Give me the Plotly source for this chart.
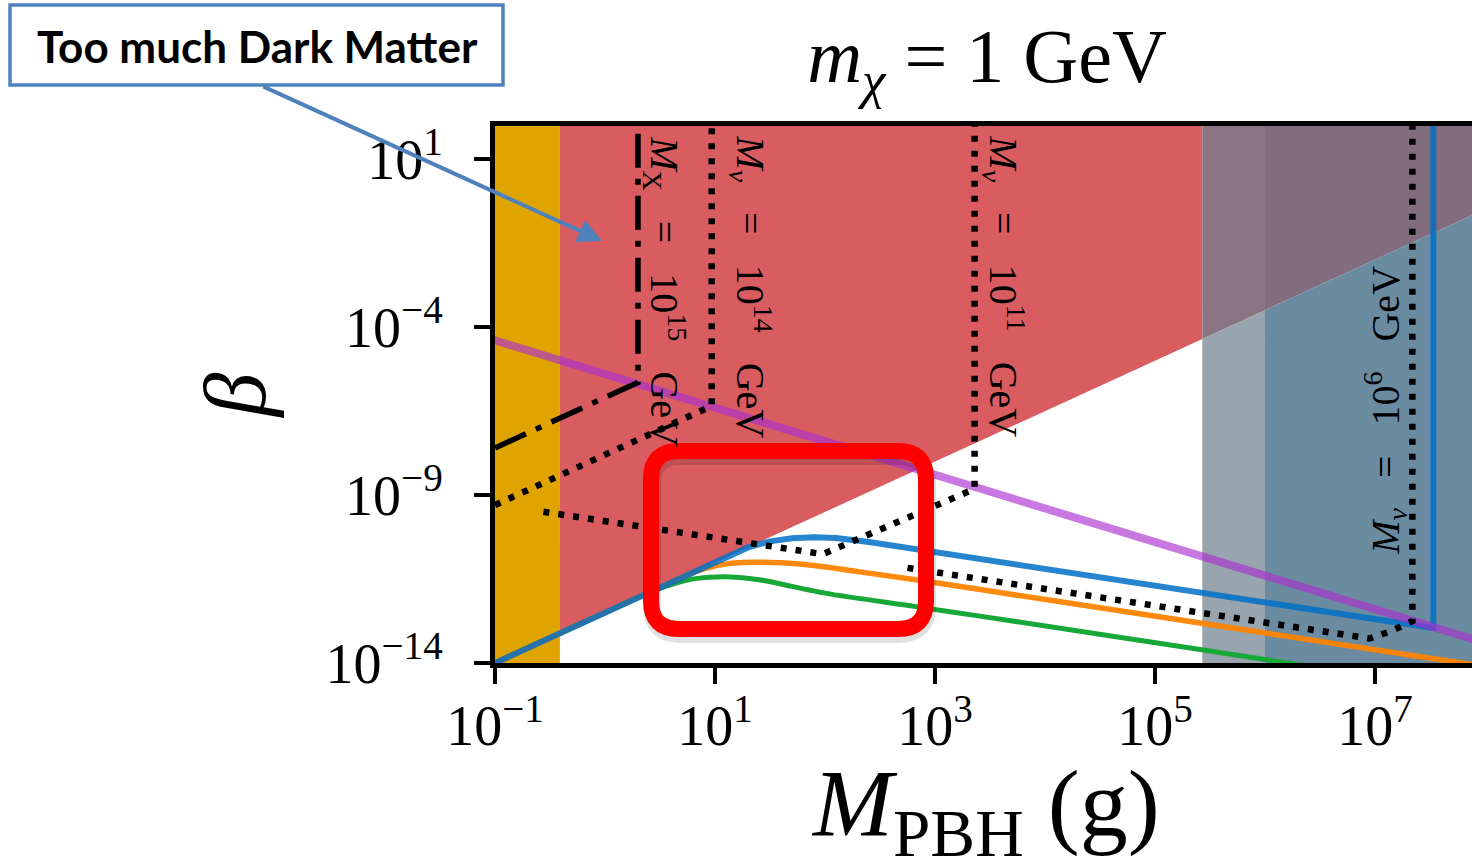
import numpy as np
import plotly.graph_objects as go

# ---------------- data (log10 values) ----------------
x_range_log = [-1.0, 7.882]
y_range_log = [-14.0, 1.98]

xtick_vals = [1e-1, 1e1, 1e3, 1e5, 1e7]
xtick_text = ["10<sup>−1</sup>", "10<sup>1</sup>", "10<sup>3</sup>", "10<sup>5</sup>", "10<sup>7</sup>"]
ytick_vals = [1e1, 1e-4, 1e-9, 1e-14]
ytick_text = ["10<sup>1</sup>", "10<sup>−4</sup>", "10<sup>−9</sup>", "10<sup>−14</sup>"]

# shaded regions (log10 M, log10 beta)
orange_band_logM = [-1.05, -0.41, -0.41, -1.05]
orange_band_logB = [-16.0, -16.0, 3.0, 3.0]
red_logM = [-0.41, 5.43, 5.43, -0.41]
red_logB = [-13.12, -4.36, 3.0, 3.0]
gray1_up_logM = [5.43, 6.0, 6.0, 5.43]
gray1_up_logB = [-4.36, -3.5, 3.0, 3.0]
gray1_lo_logM = [5.43, 6.0, 6.0, 5.43]
gray1_lo_logB = [-4.36, -3.5, -16.0, -16.0]
gray2_up_logM = [6.0, 9.0, 9.0, 6.0]
gray2_up_logB = [-3.5, 1.0, 3.0, 3.0]
gray2_lo_logM = [6.0, 9.0, 9.0, 6.0]
gray2_lo_logB = [-3.5, 1.0, -16.0, -16.0]

# curves
purple_logM = [-1.2, 8.2]
purple_logB = [-4.2, -13.6]

blue_logM = [-1.0, 0.0, 1.0, 1.3, 1.5, 1.7, 1.9, 2.1, 2.4, 2.84, 3.5, 5.41, 7.53, 7.53]
blue_logB = [-14.0, -12.5, -11.0, -10.56, -10.38, -10.29, -10.26, -10.28, -10.4, -10.62, -10.97, -11.9, -12.96, 3.0]

orange_logM = [-1.0, 0.0, 0.7, 0.9, 1.1, 1.35, 1.6, 1.9, 2.3, 2.84, 3.5, 5.41, 7.95]
orange_logB = [-14.0, -12.5, -11.45, -11.2, -11.05, -11.0, -11.02, -11.1, -11.28, -11.53, -11.86, -12.81, -14.08]

green_logM = [-1.0, 0.0, 0.35, 0.55, 0.75, 0.95, 1.15, 1.4, 1.7, 2.0, 2.84, 3.5, 5.41, 7.0]
green_logB = [-14.0, -12.5, -11.98, -11.72, -11.53, -11.45, -11.44, -11.52, -11.72, -11.92, -12.33, -12.65, -13.6, -14.4]

dashdot_logM = [-1.0, 0.3, 0.3]
dashdot_logB = [-7.6, -5.65, 3.0]
dot14_logM = [-1.0, 0.97, 0.97]
dot14_logB = [-9.3, -6.35, 3.0]
dot11_logM = [-0.56, 1.98, 3.36, 3.36]
dot11_logB = [-9.5, -10.76, -8.82, 3.0]
dot6_logM = [2.75, 6.95, 7.15, 7.34, 7.34]
dot6_logB = [-11.17, -13.27, -13.05, -12.75, 3.0]

SP = "\u00a0\u00a0\u00a0"
labels = [
    (f"<i>M</i><sub>X</sub>{SP}={SP}10<sup>15</sup>{SP}GeV", 0.55, -2.95, 90),
    (f"<i>M</i><sub><i>ν</i></sub>{SP}={SP}10<sup>14</sup>{SP}GeV", 1.33, -2.8, 90),
    (f"<i>M</i><sub><i>ν</i></sub>{SP}={SP}10<sup>11</sup>{SP}GeV", 3.63, -2.8, 90),
    (f"<i>M</i><sub><i>ν</i></sub>{SP}={SP}10<sup>6</sup>{SP}GeV", 7.09, -6.47, -90),
]

SERIF = "Liberation Serif"


def pw(a):
    return 10 ** np.asarray(a, dtype=float)


fig = go.Figure()


def region(lx, ly, color):
    fig.add_trace(go.Scatter(x=pw(lx), y=pw(ly), mode="lines", fill="toself",
                             fillcolor=color, line=dict(width=0), hoverinfo="skip",
                             showlegend=False))


region(orange_band_logM, orange_band_logB, "#E0A400")
region(red_logM, red_logB, "#D95C60")
region(gray1_up_logM, gray1_up_logB, "#8A7482")
region(gray1_lo_logM, gray1_lo_logB, "#98A4AE")
region(gray2_up_logM, gray2_up_logB, "#816D7E")
region(gray2_lo_logM, gray2_lo_logB, "#6B8BA0")


def curve(lx, ly, color, width, dash="solid", shape="linear"):
    fig.add_trace(go.Scatter(x=pw(lx), y=pw(ly), mode="lines",
                             line=dict(color=color, width=width, dash=dash, shape=shape),
                             hoverinfo="skip", showlegend=False))


curve(green_logM, green_logB, "#18A838", 5, shape="spline")
curve(orange_logM, orange_logB, "rgba(255,132,0,0.95)", 5.5, shape="spline")
curve(blue_logM, blue_logB, "rgba(0,112,198,0.85)", 6)
curve(purple_logM, purple_logB, "rgba(171,48,207,0.65)", 8)
curve(dashdot_logM, dashdot_logB, "black", 5.5, dash="34px,11px,6px,11px")
curve(dot14_logM, dot14_logB, "black", 6.5, dash="6px,9px")
curve(dot11_logM, dot11_logB, "black", 6.5, dash="6px,9px")
curve(dot6_logM, dot6_logB, "black", 6.5, dash="6px,9px")

annotations = []
for txt, lx, ly, ang in labels:
    annotations.append(dict(x=lx, y=ly, xref="x", yref="y", text=txt, showarrow=False,
                            textangle=ang, font=dict(family=SERIF, size=40, color="black")))

# overlay geometry (pixel layout of the slide)
L, T, W, H = 495, 126, 977, 537


def pp(px, py):
    return (px - L) / W, (T + H - py) / H


# x-axis title placed as an annotation so it may sit lower than the margin allows
xtx, xty = pp(985, 810)
annotations.append(dict(x=xtx, y=xty, xref="paper", yref="paper", xanchor="center", yanchor="middle",
                        text="<i>M</i><sub>PBH</sub>\u00a0(g)", showarrow=False,
                        font=dict(family=SERIF, size=96, color="black")))

# "Too much Dark Matter" call-out
bx0, by0 = pp(10, 85)
bx1, by1 = pp(503, 5)
tcx, tcy = pp(257, 46)
annotations.append(dict(x=tcx, y=tcy, xref="paper", yref="paper", xanchor="center", yanchor="middle",
                        text="<b>Too much Dark Matter</b>",
                        showarrow=False, font=dict(family="Lato", size=44, color="black")))
hx, hy = pp(602, 241)
annotations.append(dict(x=hx, y=hy, xref="paper", yref="paper", text="", showarrow=True,
                        ax=262 - 602, ay=86 - 241, arrowcolor="#4F81BD", arrowwidth=4,
                        arrowhead=2, arrowsize=1.2))


def rounded(x0, y0, x1, y1, r):
    def P(a, b):
        u, v = pp(a, b)
        return f"{u:.5f},{v:.5f}"
    return (f"M{P(x0 + r, y0)} L{P(x1 - r, y0)} Q{P(x1, y0)} {P(x1, y0 + r)} "
            f"L{P(x1, y1 - r)} Q{P(x1, y1)} {P(x1 - r, y1)} L{P(x0 + r, y1)} "
            f"Q{P(x0, y1)} {P(x0, y1 - r)} L{P(x0, y0 + r)} Q{P(x0, y0)} {P(x0 + r, y0)} Z")


shapes = [
    dict(type="path", xref="paper", yref="paper", path=rounded(652, 456, 927, 634, 28),
         line=dict(color="rgba(0,0,0,0.12)", width=18), layer="above"),
    dict(type="path", xref="paper", yref="paper", path=rounded(651, 451, 926, 629, 28),
         line=dict(color="#FF0000", width=16), layer="above"),
    dict(type="rect", xref="paper", yref="paper", x0=bx0, y0=by0, x1=bx1, y1=by1,
         line=dict(color="#4F81BD", width=3.5), fillcolor="white", layer="above"),
]

fig.update_layout(
    width=1472, height=863,
    margin=dict(l=L, r=1472 - L - W, t=T, b=863 - T - H, autoexpand=False),
    paper_bgcolor="white", plot_bgcolor="white",
    showlegend=False,
    title=dict(text="<i>m</i><sub><i>χ</i></sub>\u00a0=\u00a01\u00a0GeV", x=987 / 1472,
               xanchor="center", y=1 - 55 / 863, yanchor="middle", automargin=False,
               font=dict(family=SERIF, size=76, color="black")),
    xaxis=dict(type="log", range=x_range_log, tickvals=xtick_vals, ticktext=xtick_text,
               ticks="outside", ticklen=16, tickwidth=4, tickcolor="black",
               showline=True, linewidth=5, linecolor="black", mirror=True,
               showgrid=False, zeroline=False, ticklabelstandoff=-6, automargin=False,
               tickfont=dict(family=SERIF, size=56, color="black")),
    yaxis=dict(type="log", range=y_range_log, tickvals=ytick_vals, ticktext=ytick_text,
               ticks="outside", ticklen=16, tickwidth=4, tickcolor="black",
               showline=True, linewidth=5, linecolor="black", mirror=False,
               showgrid=False, zeroline=False, ticklabelstandoff=20, automargin=False,
               tickfont=dict(family=SERIF, size=56, color="black"),
               title=dict(text="<i>β</i>", standoff=32,
                          font=dict(family=SERIF, size=88, color="black"))),
    annotations=annotations,
    shapes=shapes,
)

fig.write_html("out.html", config={"displayModeBar": False},
               post_script="document.body.style.margin='0';document.body.style.overflow='hidden';")
